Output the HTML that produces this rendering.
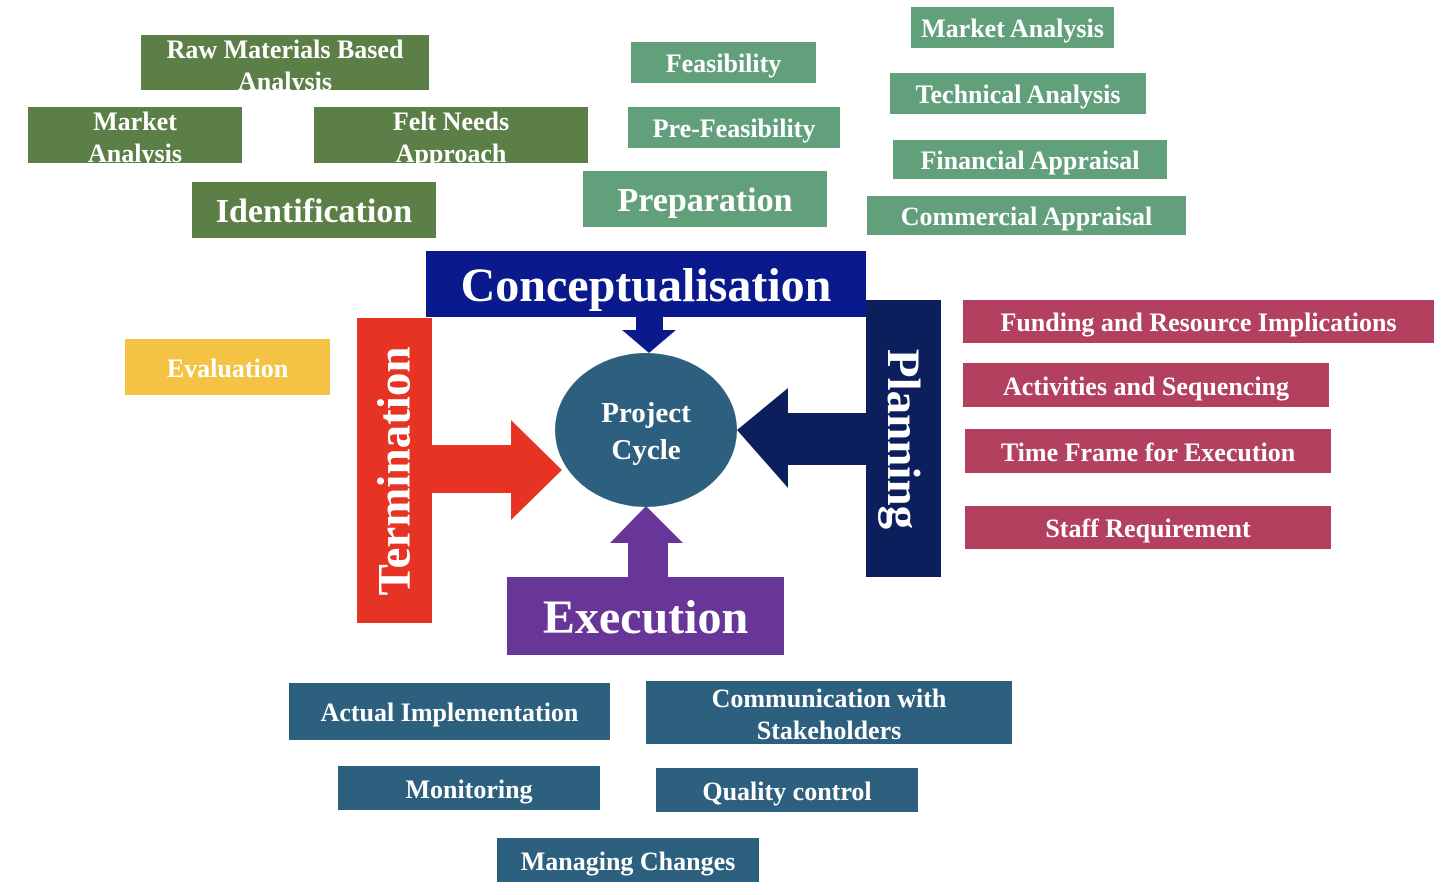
<!DOCTYPE html>
<html><head><meta charset="utf-8"><style>
body{margin:0;width:1448px;height:895px;background:#fff;position:relative;overflow:hidden;font-family:"Liberation Serif","DejaVu Serif",serif;font-weight:bold;color:#fff}
.b{position:absolute;display:flex;align-items:center;justify-content:center;text-align:center;white-space:nowrap;font-size:26px;line-height:32px;padding-top:3px;box-sizing:border-box}
.t{position:absolute;text-align:center;font-size:26px;line-height:32px;white-space:nowrap;overflow:visible}
.dg{background:#5b7f46}.lg{background:#62a07c}.rd{background:#b3405f}.bl{background:#2d5f7f}
</style></head><body>
<svg width="1448" height="895" style="position:absolute;left:0;top:0">
<polygon points="636,317 663,317 663,330 676,330 649,353 622,330 636,330" fill="#0a1a8c"/>
<polygon points="866,413 788,413 788,388 737,430 788,488 788,465 866,465" fill="#0c1f5c"/>
<polygon points="432,445 511,445 511,420 562,470 511,520 511,493 432,493" fill="#e63323"/>
<polygon points="628,577 628,543 610,543 646,506 683,543 668,543 668,577" fill="#683598"/>
<ellipse cx="646" cy="430" rx="91" ry="77" fill="#2d5f7f"/>
</svg>
<div class="t dg" style="left:141px;top:35px;width:288px;height:55px"><div style="margin-top:-1px">Raw Materials Based<br>Analysis</div></div>
<div class="t dg" style="left:28px;top:107px;width:214px;height:56px"><div style="margin-top:-1px">Market<br>Analysis</div></div>
<div class="t dg" style="left:314px;top:107px;width:274px;height:56px"><div style="margin-top:-1px">Felt Needs<br>Approach</div></div>
<div class="b dg" style="left:192px;top:182px;width:244px;height:56px;font-size:34px">Identification</div>
<div class="b lg" style="left:631px;top:42px;width:185px;height:41px">Feasibility</div>
<div class="b lg" style="left:628px;top:107px;width:212px;height:41px">Pre-Feasibility</div>
<div class="b lg" style="left:583px;top:171px;width:244px;height:56px;font-size:34px">Preparation</div>
<div class="b lg" style="left:911px;top:7px;width:203px;height:41px">Market Analysis</div>
<div class="b lg" style="left:890px;top:73px;width:256px;height:41px">Technical Analysis</div>
<div class="b lg" style="left:893px;top:140px;width:274px;height:39px">Financial Appraisal</div>
<div class="b lg" style="left:867px;top:196px;width:319px;height:39px">Commercial Appraisal</div>
<div class="b" style="left:426px;top:251px;width:440px;height:66px;background:#0a1a8c;font-size:48px">Conceptualisation</div>
<div class="b" style="left:866px;top:300px;width:75px;height:277px;background:#0c1f5c;padding:0"><div style="transform:rotate(90deg);font-size:47px">Planning</div></div>
<div class="b" style="left:357px;top:318px;width:75px;height:305px;background:#e63323;padding:0"><div style="transform:rotate(-90deg);font-size:47px">Termination</div></div>
<div class="b" style="left:507px;top:577px;width:277px;height:78px;background:#683598;font-size:48px">Execution</div>
<div class="b" style="left:555px;top:393px;width:182px;height:74px;font-size:29px;line-height:37px;background:none">Project<br>Cycle</div>
<div class="b" style="left:125px;top:339px;width:205px;height:56px;background:#f4c343">Evaluation</div>
<div class="b rd" style="left:963px;top:300px;width:471px;height:43px">Funding and Resource Implications</div>
<div class="b rd" style="left:963px;top:363px;width:366px;height:44px">Activities and Sequencing</div>
<div class="b rd" style="left:965px;top:429px;width:366px;height:44px">Time Frame for Execution</div>
<div class="b rd" style="left:965px;top:506px;width:366px;height:43px">Staff Requirement</div>
<div class="b bl" style="left:289px;top:683px;width:321px;height:57px">Actual Implementation</div>
<div class="t bl" style="left:646px;top:681px;width:366px;height:63px"><div style="margin-top:2px">Communication with<br>Stakeholders</div></div>
<div class="b bl" style="left:338px;top:766px;width:262px;height:44px">Monitoring</div>
<div class="b bl" style="left:656px;top:768px;width:262px;height:44px">Quality control</div>
<div class="b bl" style="left:497px;top:838px;width:262px;height:44px">Managing Changes</div>
</body></html>
